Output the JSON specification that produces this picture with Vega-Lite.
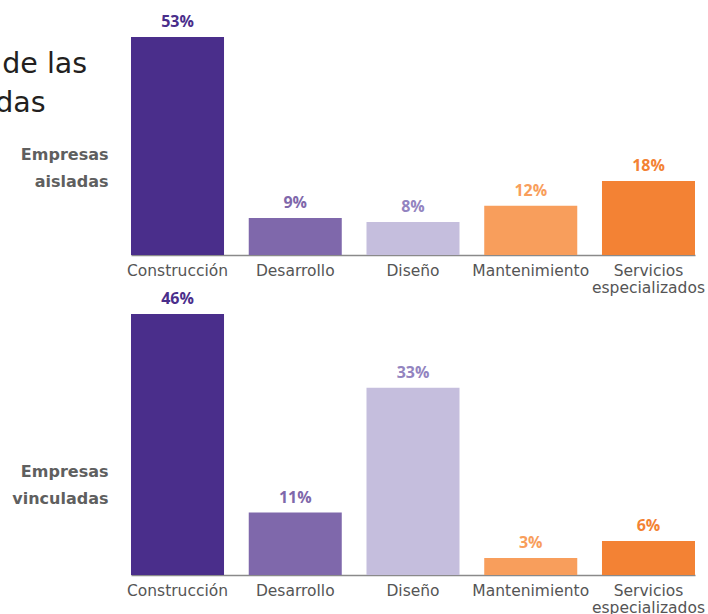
{
  "$schema": "https://vega.github.io/schema/vega-lite/v6.json",
  "padding": {"left": -406, "top": 14, "right": 0, "bottom": 0},
  "autosize": {"type": "pad"},
  "bounds": "flush",
  "spacing": 59,
  "title": {
    "text": ["Distribución por actividades de las", "empresas aisladas y vinculadas"],
    "font": "DejaVu Sans",
    "fontSize": 28.5,
    "fontWeight": "normal",
    "color": "#231f20",
    "anchor": "start",
    "frame": "group",
    "align": "left",
    "baseline": "alphabetic",
    "lineHeight": 39,
    "offset": 0,
    "dx": -537,
    "dy": 126
  },
  "config": {
    "view": {"stroke": null},
    "font": "DejaVu Sans",
    "axisX": {
      "title": null,
      "labelFont": "DejaVu Sans",
      "labelFontSize": 15.5,
      "labelColor": "#555555",
      "labelAngle": 0,
      "labelPadding": 8,
      "labelLineHeight": 17,
      "labelOverlap": false,
      "labelBound": false,
      "labelFlush": false,
      "ticks": false,
      "tickSize": 0,
      "domainColor": "#8a8a8a",
      "domainWidth": 1.5,
      "grid": false,
      "labelExpr": "datum.value == 'Servicios especializados' ? ['Servicios', 'especializados'] : datum.value"
    },
    "axisY": {
      "labels": false,
      "ticks": false,
      "domain": false,
      "grid": false,
      "titleAngle": 0,
      "titleAlign": "right",
      "titleBaseline": "middle",
      "titleFont": "DejaVu Sans",
      "titleFontSize": 16,
      "titleFontWeight": "bold",
      "titleColor": "#5f5f5f",
      "titleLineHeight": 27,
      "titleX": -23
    }
  },
  "datasets": {
    "aisladas": [
      {"actividad": "Construcción", "pct": 0.53},
      {"actividad": "Desarrollo", "pct": 0.09},
      {"actividad": "Diseño", "pct": 0.08},
      {"actividad": "Mantenimiento", "pct": 0.12},
      {"actividad": "Servicios especializados", "pct": 0.18}
    ],
    "vinculadas": [
      {"actividad": "Construcción", "pct": 0.46},
      {"actividad": "Desarrollo", "pct": 0.11},
      {"actividad": "Diseño", "pct": 0.33},
      {"actividad": "Mantenimiento", "pct": 0.03},
      {"actividad": "Servicios especializados", "pct": 0.06}
    ]
  },
  "vconcat": [
    {
      "width": 564,
      "height": 218,
      "data": {"name": "aisladas"},
      "encoding": {
        "x": {"field": "actividad", "type": "nominal", "sort": null, "scale": {"paddingInner": 0.21, "paddingOuter": 0}},
        "y": {"field": "pct", "type": "quantitative", "scale": {"domain": [0, 0.53], "nice": false}, "axis": {"title": ["Empresas", "aisladas"], "titleY": 117}}
      },
      "layer": [
        {
          "mark": {"type": "bar"},
          "encoding": {
            "color": {"field": "actividad", "type": "nominal", "sort": null, "legend": null,
              "scale": {"domain": ["Construcción", "Desarrollo", "Diseño", "Mantenimiento", "Servicios especializados"],
                        "range": ["#4a2e8b", "#7f68ab", "#c5bedd", "#f89e5c", "#f38234"]}}
          }
        },
        {
          "mark": {"type": "text", "baseline": "alphabetic", "dy": -10, "font": "Open Sans", "fontSize": 16, "fontWeight": "bold"},
          "encoding": {
            "text": {"field": "pct", "type": "quantitative", "format": ".0%"},
            "color": {"field": "actividad", "type": "nominal", "sort": null, "legend": null,
              "scale": {"domain": ["Construcción", "Desarrollo", "Diseño", "Mantenimiento", "Servicios especializados"],
                        "range": ["#4a2e8b", "#7f68ab", "#9384c0", "#f89e5c", "#f38234"]}}
          }
        }
      ],
      "resolve": {"scale": {"color": "independent"}}
    },
    {
      "width": 564,
      "height": 261,
      "data": {"name": "vinculadas"},
      "encoding": {
        "x": {"field": "actividad", "type": "nominal", "sort": null, "scale": {"paddingInner": 0.21, "paddingOuter": 0}},
        "y": {"field": "pct", "type": "quantitative", "scale": {"domain": [0, 0.46], "nice": false}, "axis": {"title": ["Empresas", "vinculadas"], "titleY": 157}}
      },
      "layer": [
        {
          "mark": {"type": "bar"},
          "encoding": {
            "color": {"field": "actividad", "type": "nominal", "sort": null, "legend": null,
              "scale": {"domain": ["Construcción", "Desarrollo", "Diseño", "Mantenimiento", "Servicios especializados"],
                        "range": ["#4a2e8b", "#7f68ab", "#c5bedd", "#f89e5c", "#f38234"]}}
          }
        },
        {
          "mark": {"type": "text", "baseline": "alphabetic", "dy": -10, "font": "Open Sans", "fontSize": 16, "fontWeight": "bold"},
          "encoding": {
            "text": {"field": "pct", "type": "quantitative", "format": ".0%"},
            "color": {"field": "actividad", "type": "nominal", "sort": null, "legend": null,
              "scale": {"domain": ["Construcción", "Desarrollo", "Diseño", "Mantenimiento", "Servicios especializados"],
                        "range": ["#4a2e8b", "#7f68ab", "#9384c0", "#f89e5c", "#f38234"]}}
          }
        }
      ],
      "resolve": {"scale": {"color": "independent"}}
    }
  ]
}
